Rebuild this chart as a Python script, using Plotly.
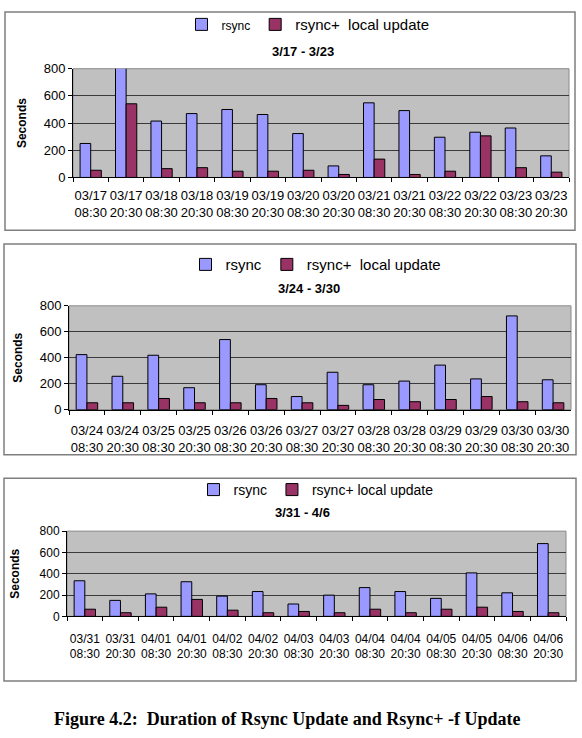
import plotly.graph_objects as go

# ---------------- data ----------------
cats1 = ["03/17 08:30", "03/17 20:30", "03/18 08:30", "03/18 20:30", "03/19 08:30", "03/19 20:30",
         "03/20 08:30", "03/20 20:30", "03/21 08:30", "03/21 20:30", "03/22 08:30", "03/22 20:30",
         "03/23 08:30", "03/23 20:30"]
rsync1 = [250, 815, 415, 470, 500, 463, 323, 85, 549, 492, 296, 333, 364, 159]
rplus1 = [53, 542, 65, 72, 46, 46, 53, 22, 135, 22, 46, 306, 72, 39]

cats2 = ["03/24 08:30", "03/24 20:30", "03/25 08:30", "03/25 20:30", "03/26 08:30", "03/26 20:30",
         "03/27 08:30", "03/27 20:30", "03/28 08:30", "03/28 20:30", "03/29 08:30", "03/29 20:30",
         "03/30 08:30", "03/30 20:30"]
rsync2 = [424, 257, 419, 169, 540, 192, 101, 288, 192, 220, 343, 237, 722, 230]
rplus2 = [53, 53, 86, 53, 53, 86, 53, 33, 78, 61, 78, 101, 61, 53]

cats3 = ["03/31 08:30", "03/31 20:30", "04/01 08:30", "04/01 20:30", "04/02 08:30", "04/02 20:30",
         "04/03 08:30", "04/03 20:30", "04/04 08:30", "04/04 20:30", "04/05 08:30", "04/05 20:30",
         "04/06 08:30", "04/06 20:30"]
rsync3 = [334, 150, 211, 325, 190, 233, 116, 199, 270, 233, 169, 408, 221, 683]
rplus3 = [67, 34, 86, 159, 58, 34, 46, 34, 67, 34, 67, 86, 46, 34]

titles = ["3/17 - 3/23", "3/24 - 3/30", "3/31 - 4/6"]
yticks = [0, 200, 400, 600, 800]
caption = "Figure 4.2:\u00a0 Duration of Rsync Update and Rsync+ -f Update"

# ---------------- layout helpers ----------------
W, H = 582, 738
def px_x(p): return p / W
def px_y(p): return 1 - p / H

BLUE = "#9999FF"
PLUM = "#993366"
FONT = "Liberation Sans"

panels = [
    dict(cats=cats1, a=rsync1, b=rplus1, title=titles[0],
         plot=(73, 569, 63, 174), box=(5, 575, 5, 228), leg=(308, 18), tit=(303, 45), ylab=22,
         tfs=13, lfs=15, tls=6,
         names=("<span style='font-size:12px'>rsync</span>", "rsync+\u00a0 local update")),
    dict(cats=cats2, a=rsync2, b=rplus2, title=titles[1],
         plot=(69, 571, 305, 411), box=(4, 576, 242, 457), leg=(316, 263), tit=(309, 287), ylab=18,
         tfs=13, lfs=15, tls=9,
         names=("rsync", "rsync+\u00a0 local update")),
    dict(cats=cats3, a=rsync3, b=rplus3, title=titles[2],
         plot=(67, 566, 535, 622), box=(4, 576, 481, 688), leg=(316, 493), tit=(302, 516), ylab=15,
         tfs=12, lfs=14, tls=11,
         names=("rsync", "rsync+ local update")),
]

fig = go.Figure()
layout = dict(
    width=W, height=H, margin=dict(l=0, r=0, t=0, b=0),
    paper_bgcolor="white", plot_bgcolor="#C0C0C0",
    font=dict(family=FONT, size=12, color="black"),
    barmode="group", bargap=0.4, bargroupgap=0,
    shapes=[], annotations=[],
)

for i, p in enumerate(panels, start=1):
    sfx = "" if i == 1 else str(i)
    xa, ya = "x" + sfx, "y" + sfx
    legname = "legend" + sfx
    labels = [c.replace(" ", "<br>") for c in p["cats"]]
    fig.add_trace(go.Bar(x=labels, y=p["a"], name=p["names"][0], xaxis=xa, yaxis=ya,
                         marker=dict(color=BLUE, line=dict(color="black", width=1)),
                         legend=legname, hoverinfo="x+y"))
    fig.add_trace(go.Bar(x=labels, y=p["b"], name=p["names"][1], xaxis=xa, yaxis=ya,
                         marker=dict(color=PLUM, line=dict(color="black", width=1)),
                         legend=legname, hoverinfo="x+y"))
    x0, x1, y0, y1 = p["plot"]
    layout["xaxis" + sfx] = dict(
        domain=[px_x(x0), px_x(x1)], anchor=ya, type="category",
        showline=True, linecolor="black", linewidth=1, tickangle=0,
        ticks="outside", tickson="boundaries", ticklen=4, tickcolor="black",
        ticklabelstandoff=p["tls"],
        tickfont=dict(family=FONT, size=p["tfs"]), showgrid=False, fixedrange=True,
    )
    layout["yaxis" + sfx] = dict(
        domain=[px_y(y1), px_y(y0)], anchor=xa, range=[0, 800],
        tickvals=yticks, ticks="outside", ticklen=4, tickcolor="black",
        showline=True, linecolor="black", linewidth=1,
        showgrid=True, gridcolor="#3a3a3a", gridwidth=1, zeroline=False,
        tickfont=dict(family=FONT, size=p["tfs"]), fixedrange=True,
    )
    lx, ly = p["leg"]
    layout[legname] = dict(
        orientation="h", x=px_x(lx), y=px_y(ly), xanchor="center", yanchor="middle",
        font=dict(family=FONT, size=p["lfs"]), bgcolor="rgba(0,0,0,0)", itemwidth=30,
        tracegroupgap=0, traceorder="normal",
    )
    # plot area border (light grey)
    layout["shapes"].append(dict(type="rect", xref=xa + " domain", yref=ya + " domain",
                                 x0=0, x1=1, y0=0, y1=1, line=dict(color="#8a8a8a", width=1),
                                 layer="below"))
    # chart box
    bx0, bx1, by0, by1 = p["box"]
    layout["shapes"].append(dict(type="rect", xref="paper", yref="paper",
                                 x0=px_x(bx0), x1=px_x(bx1), y0=px_y(by1), y1=px_y(by0),
                                 line=dict(color="#7f7f7f", width=1.5)))
    tx, ty = p["tit"]
    layout["annotations"].append(dict(text="<b>" + p["title"] + "</b>", xref="paper", yref="paper",
                                      x=px_x(tx), y=px_y(ty), showarrow=False,
                                      xanchor="center", yanchor="middle",
                                      font=dict(family=FONT, size=13)))
    layout["annotations"].append(dict(text="<b>Seconds</b>", xref="paper", yref="paper",
                                      x=px_x(p["ylab"]), y=px_y((y0 + y1) / 2), showarrow=False,
                                      textangle=-90, xanchor="center", yanchor="middle",
                                      font=dict(family=FONT, size=12)))

layout["annotations"].append(dict(text="<b>" + caption + "</b>", xref="paper", yref="paper",
                                  x=px_x(287), y=px_y(727), showarrow=False, xanchor="center",
                                  yanchor="middle", font=dict(family="Liberation Serif", size=18)))

fig.update_layout(**layout)
fig.write_html("out.html")
